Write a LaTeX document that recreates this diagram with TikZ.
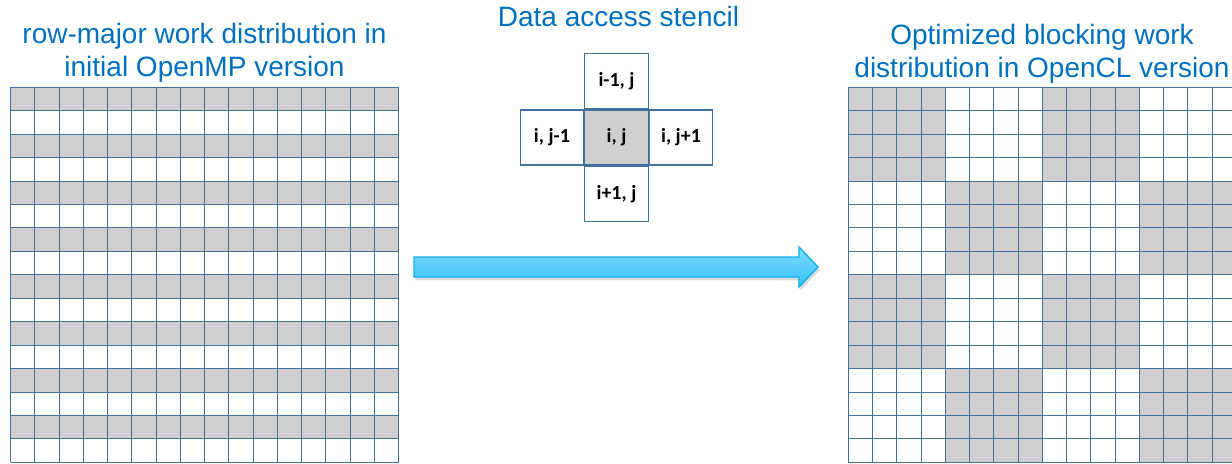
\documentclass[tikz,border=0pt]{standalone}
\usepackage{fontspec}
\setmainfont{Liberation Sans}
\newfontfamily\cellfont{Carlito}
\usetikzlibrary{positioning,shadows}

\definecolor{titleblue}{HTML}{0070C0}
\definecolor{gridblue}{HTML}{41719C}
\definecolor{cellgray}{HTML}{D0CECF}
\definecolor{arrowtop}{HTML}{7ADBFF}
\definecolor{arrowbot}{HTML}{38C2F6}
\definecolor{arrowedge}{HTML}{12AFEC}

\begin{document}
\begin{tikzpicture}[x=0.75pt, y=-0.75pt,
  title/.style={text=titleblue, font=\fontsize{21}{25}\selectfont, align=center, anchor=base},
  gridline/.style={gridblue, line width=0.75pt},
  cellbox/.style={draw=gridblue, line width=0.9pt, minimum width=47.5pt, minimum height=41.25pt,
    inner sep=0pt, font=\cellfont\bfseries\fontsize{15}{18}\selectfont}]

\useasboundingbox (0,0) rectangle (1232,464);

% titles
\node[title] (lefttitle) at (204.5,43.5) {row-major work distribution in};
\node[title] (lefttitle2) at (204.5,76.5) {initial OpenMP version};
\node[title] (midtitle) at (618.5,26.5) {Data access stencil};
\node[title] (righttitle) at (1042,44.3) {Optimized blocking work};
\node[title] (righttitle2) at (1042,77.3) {distribution in OpenCL version};

% left grid: every other row
\begin{scope}[shift={(10.5,87.3)}, x=18.19pt, y=-17.58pt]
  \foreach \r in {0,2,...,14}
    \fill[cellgray] (0,\r) rectangle (16,\r+1);
  \foreach \k in {0,...,16} {
    \draw[gridline] (\k,0) -- (\k,16);
    \draw[gridline] (0,\k) -- (16,\k);
  }
\end{scope}

% right grid: 4x4 blocks, checkerboard
\begin{scope}[shift={(848.3,87.3)}, x=18.19pt, y=-17.58pt]
  \foreach \bi in {0,...,3}
    \foreach \bj in {0,...,3} {
      \pgfmathparse{int(mod(\bi+\bj,2))}
      \ifnum\pgfmathresult=0
        \fill[cellgray] (4*\bj,4*\bi) rectangle ++(4,4);
      \fi
    }
  \foreach \k in {0,...,16} {
    \draw[gridline] (\k,0) -- (\k,16);
    \draw[gridline] (0,\k) -- (16,\k);
  }
\end{scope}

% stencil
\node[cellbox, fill=cellgray] (cij) at (616.5,137.5) {i, j};
\node[cellbox, above=0pt of cij] (cup) {i-1, j};
\node[cellbox, below=0pt of cij] (cdown) {i+1, j};
\node[cellbox, left=0pt of cij] (cleft) {i, j-1};
\node[cellbox, right=0pt of cij] (cright) {i, j+1};

% block arrow
\coordinate (arrowtail) at (414,267);
\coordinate (arrowtip) at (818,267);
\draw[arrowedge, line width=1pt, top color=arrowtop, bottom color=arrowbot,
      drop shadow={opacity=0.3, shadow xshift=1pt, shadow yshift=-2.5pt}]
  (arrowtail) ++(0,-10) -- ++(385,0) -- ++(0,-10) -- (arrowtip)
  -- ++(-19,20) -- ++(0,-10) -- ++(-385,0) -- cycle;

\end{tikzpicture}
\end{document}
